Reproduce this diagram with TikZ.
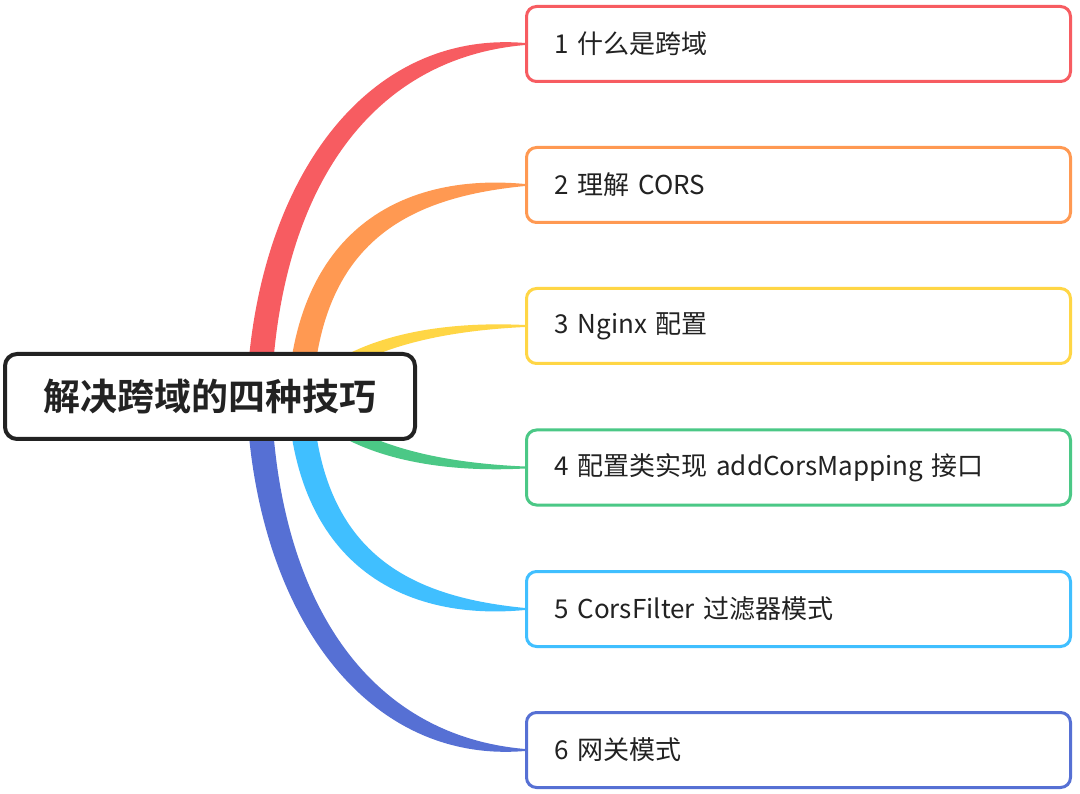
\documentclass[tikz,border=0pt]{standalone}
\usepackage{fontspec}
\setmainfont{Noto Sans CJK SC}[BoldFont={Noto Sans CJK SC Bold}]
\usetikzlibrary{backgrounds}

\definecolor{cred}{RGB}{247,92,97}
\definecolor{corange}{RGB}{255,153,82}
\definecolor{cyellow}{RGB}{255,214,69}
\definecolor{cgreen}{RGB}{75,200,134}
\definecolor{csky}{RGB}{64,191,255}
\definecolor{cblue}{RGB}{86,112,212}
\definecolor{ctext}{RGB}{34,34,34}

\begin{document}
\begin{tikzpicture}[x=1pt, y=-1pt,
  topic/.style={draw=ctext, line width=4pt, rounded corners=12pt, fill=white,
    minimum width=410pt, minimum height=85pt, text=ctext,
    font=\bfseries\fontsize{37pt}{42pt}\selectfont},
  leaf/.style={draw=#1, line width=3pt, rounded corners=10pt, fill=white,
    minimum height=75pt, text width=488pt, inner xsep=28pt, align=left,
    text=ctext, font=\fontsize{26pt}{30pt}\selectfont}]
  \useasboundingbox (0,0) rectangle (1080,794);

  % main topic and subtopics
  \node[topic] (root) at (210,396.5) {解决跨域的四种技巧};
  \node[leaf=cred] (c1) at (798.5,44) {1 什么是跨域};
  \node[leaf=corange] (c2) at (798.5,185) {2 理解 CORS};
  \node[leaf=cyellow] (c3) at (798.5,326) {3 Nginx 配置};
  \node[leaf=cgreen] (c4) at (798.5,467.5) {4 配置类实现 addCorsMapping 接口};
  \node[leaf=csky] (c5) at (798.5,609) {5 CorsFilter 过滤器模式};
  \node[leaf=cblue] (c6) at (798.5,750) {6 网关模式};

  % tapered branches behind the nodes
  \begin{scope}[on background layer]
    \fill[white] (0,0) rectangle (1080,794);
    \fill[cred] (246,420) .. controls (246,196) and (358,29) .. ([yshift=1pt]c1.west)
      -- ([yshift=-1pt]c1.west) .. controls (362,59) and (271,204) .. (271,420) -- cycle;
    \fill[corange] (287,420) .. controls (287,234) and (398,172) .. ([yshift=1pt]c2.west)
      -- ([yshift=-1pt]c2.west) .. controls (402,198) and (312,246) .. (312,420) -- cycle;
    \fill[cyellow] (296,395) .. controls (336,344) and (420,320) .. ([yshift=1pt]c3.west)
      -- ([yshift=-1pt]c3.west) .. controls (420,332) and (344,356) .. (304,405) -- cycle;
    \fill[cgreen] (296,399) .. controls (336,450) and (420,474) .. ([yshift=-1pt]c4.west)
      -- ([yshift=1pt]c4.west) .. controls (420,462) and (344,438) .. (304,389) -- cycle;
    \fill[csky] (287,374) .. controls (287,560) and (398,622) .. ([yshift=-1pt]c5.west)
      -- ([yshift=1pt]c5.west) .. controls (402,596) and (312,548) .. (312,374) -- cycle;
    \fill[cblue] (246,374) .. controls (246,598) and (358,765) .. ([yshift=-1pt]c6.west)
      -- ([yshift=1pt]c6.west) .. controls (362,735) and (271,590) .. (271,374) -- cycle;
  \end{scope}
\end{tikzpicture}
\end{document}
